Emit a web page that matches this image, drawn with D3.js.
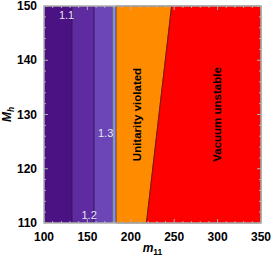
<!DOCTYPE html>
<html>
<head>
<meta charset="utf-8">
<script src="https://cdn.jsdelivr.net/npm/d3@7"></script>
<style>
  body { margin: 0; background: #fff; }
  text { font-family: "Liberation Sans", Arial, sans-serif; }
</style>
</head>
<body>
<div id="chart"></div>
<script>
// contour bands of the purple region (m11 boundaries, vertical)
const bandEdges = [100, 132.6, 157.6, 179, 183];
const bandColors = ["#4b1284", "#5e2ba0", "#6c46b6", "#8c8ce6"];
// unitarity / vacuum boundary: m11 at Mh = 110 and Mh = 150
const vacuumEdge = [[110, 218], [150, 247]];
const contourLabels = [
  { text: "1.1", m: 126, h: 148.3 },
  { text: "1.2", m: 152, h: 111.5 },
  { text: "1.3", m: 171, h: 126.5 }
];
const xTicks = [100, 150, 200, 250, 300, 350];
const yTicks = [110, 120, 130, 140, 150];

const width = 271, height = 259;
const svg = d3.select("#chart").append("svg")
  .attr("width", width).attr("height", height);

const x = d3.scaleLinear().domain([100, 350]).range([44, 261]);
const y = d3.scaleLinear().domain([110, 150]).range([223, 6]);

// purple bands
for (let i = 0; i < bandColors.length; i++) {
  svg.append("rect")
    .attr("x", x(bandEdges[i]))
    .attr("y", y(150))
    .attr("width", x(bandEdges[i + 1]) - x(bandEdges[i]))
    .attr("height", y(110) - y(150))
    .attr("fill", bandColors[i]);
}
// contour lines
for (let i = 1; i < bandEdges.length - 1; i++) {
  svg.append("line")
    .attr("x1", x(bandEdges[i])).attr("x2", x(bandEdges[i]))
    .attr("y1", y(150)).attr("y2", y(110))
    .attr("stroke", i == 3 ? "#555" : "#2a0a4a").attr("stroke-width", 0.8);
}

const line = d3.line().x(d => x(d[0])).y(d => y(d[1]));

// unitarity violated (orange)
const orange = [
  [bandEdges[4], 110], [bandEdges[4], 150],
  [vacuumEdge[1][1], 150], [vacuumEdge[0][1], 110]
];
svg.append("path")
  .attr("d", line(orange) + "Z")
  .attr("fill", "#ff8c00").attr("stroke", "#222").attr("stroke-width", 0.7);

// vacuum unstable (red)
const red = [
  [vacuumEdge[0][1], 110], [vacuumEdge[1][1], 150], [350, 150], [350, 110]
];
svg.append("path")
  .attr("d", line(red) + "Z")
  .attr("fill", "#ff0000").attr("stroke", "#5a1010").attr("stroke-width", 0.7);

// region labels
svg.append("text")
  .attr("transform", `translate(${x(207)},${y(130)}) rotate(-90)`)
  .attr("text-anchor", "middle").attr("dy", "0.35em")
  .attr("font-size", 11.5).attr("font-weight", "bold")
  .text("Unitarity violated");
svg.append("text")
  .attr("transform", `translate(${x(299)},${y(130)}) rotate(-90)`)
  .attr("text-anchor", "middle").attr("dy", "0.35em")
  .attr("font-size", 11.5).attr("font-weight", "bold")
  .text("Vacuum unstable");

// contour labels
svg.selectAll(".clab").data(contourLabels).enter().append("text")
  .attr("x", d => x(d.m)).attr("y", d => y(d.h))
  .attr("text-anchor", "middle").attr("dy", "0.35em")
  .attr("font-size", 11).attr("fill", "#e6e6f0")
  .text(d => d.text);

// frame
const fc = "#b0b0b0";
svg.append("rect")
  .attr("x", x(100)).attr("y", y(150))
  .attr("width", x(350) - x(100)).attr("height", y(110) - y(150))
  .attr("fill", "none").attr("stroke", fc).attr("stroke-width", 1.5);

// ticks
const xMinor = d3.range(100, 351, 10);
const yMinor = d3.range(110, 151, 2);
xMinor.forEach(v => {
  const len = v % 50 == 0 ? 4 : 2;
  svg.append("line").attr("x1", x(v)).attr("x2", x(v))
    .attr("y1", y(110)).attr("y2", y(110) - len).attr("stroke", fc);
  svg.append("line").attr("x1", x(v)).attr("x2", x(v))
    .attr("y1", y(150)).attr("y2", y(150) + len).attr("stroke", fc);
});
yMinor.forEach(v => {
  const len = v % 10 == 0 ? 4 : 2;
  svg.append("line").attr("x1", x(100)).attr("x2", x(100) + len)
    .attr("y1", y(v)).attr("y2", y(v)).attr("stroke", fc);
  svg.append("line").attr("x1", x(350)).attr("x2", x(350) - len)
    .attr("y1", y(v)).attr("y2", y(v)).attr("stroke", fc);
});

// tick labels
svg.selectAll(".xt").data(xTicks).enter().append("text")
  .attr("x", d => x(d)).attr("y", y(110) + 18)
  .attr("text-anchor", "middle").attr("font-size", 12).attr("font-weight", "bold")
  .text(d => d);
svg.selectAll(".yt").data(yTicks).enter().append("text")
  .attr("x", x(100) - 7).attr("y", d => y(d)).attr("dy", "0.35em")
  .attr("text-anchor", "end").attr("font-size", 12).attr("font-weight", "bold")
  .text(d => d);

// axis titles
const xl = svg.append("text")
  .attr("x", (x(100) + x(350)) / 2).attr("y", 252)
  .attr("text-anchor", "middle").attr("font-size", 12)
  .attr("font-weight", "bold").attr("font-style", "italic");
xl.append("tspan").text("m");
xl.append("tspan").attr("font-size", 8.5).attr("dy", 3).attr("font-style", "normal").text("11");

const yl = svg.append("text")
  .attr("transform", `translate(11,${y(130)}) rotate(-90)`)
  .attr("text-anchor", "middle").attr("font-size", 12)
  .attr("font-weight", "bold").attr("font-style", "italic");
yl.append("tspan").text("M");
yl.append("tspan").attr("font-size", 8.5).attr("dy", 3).text("h");
</script>
</body>
</html>
